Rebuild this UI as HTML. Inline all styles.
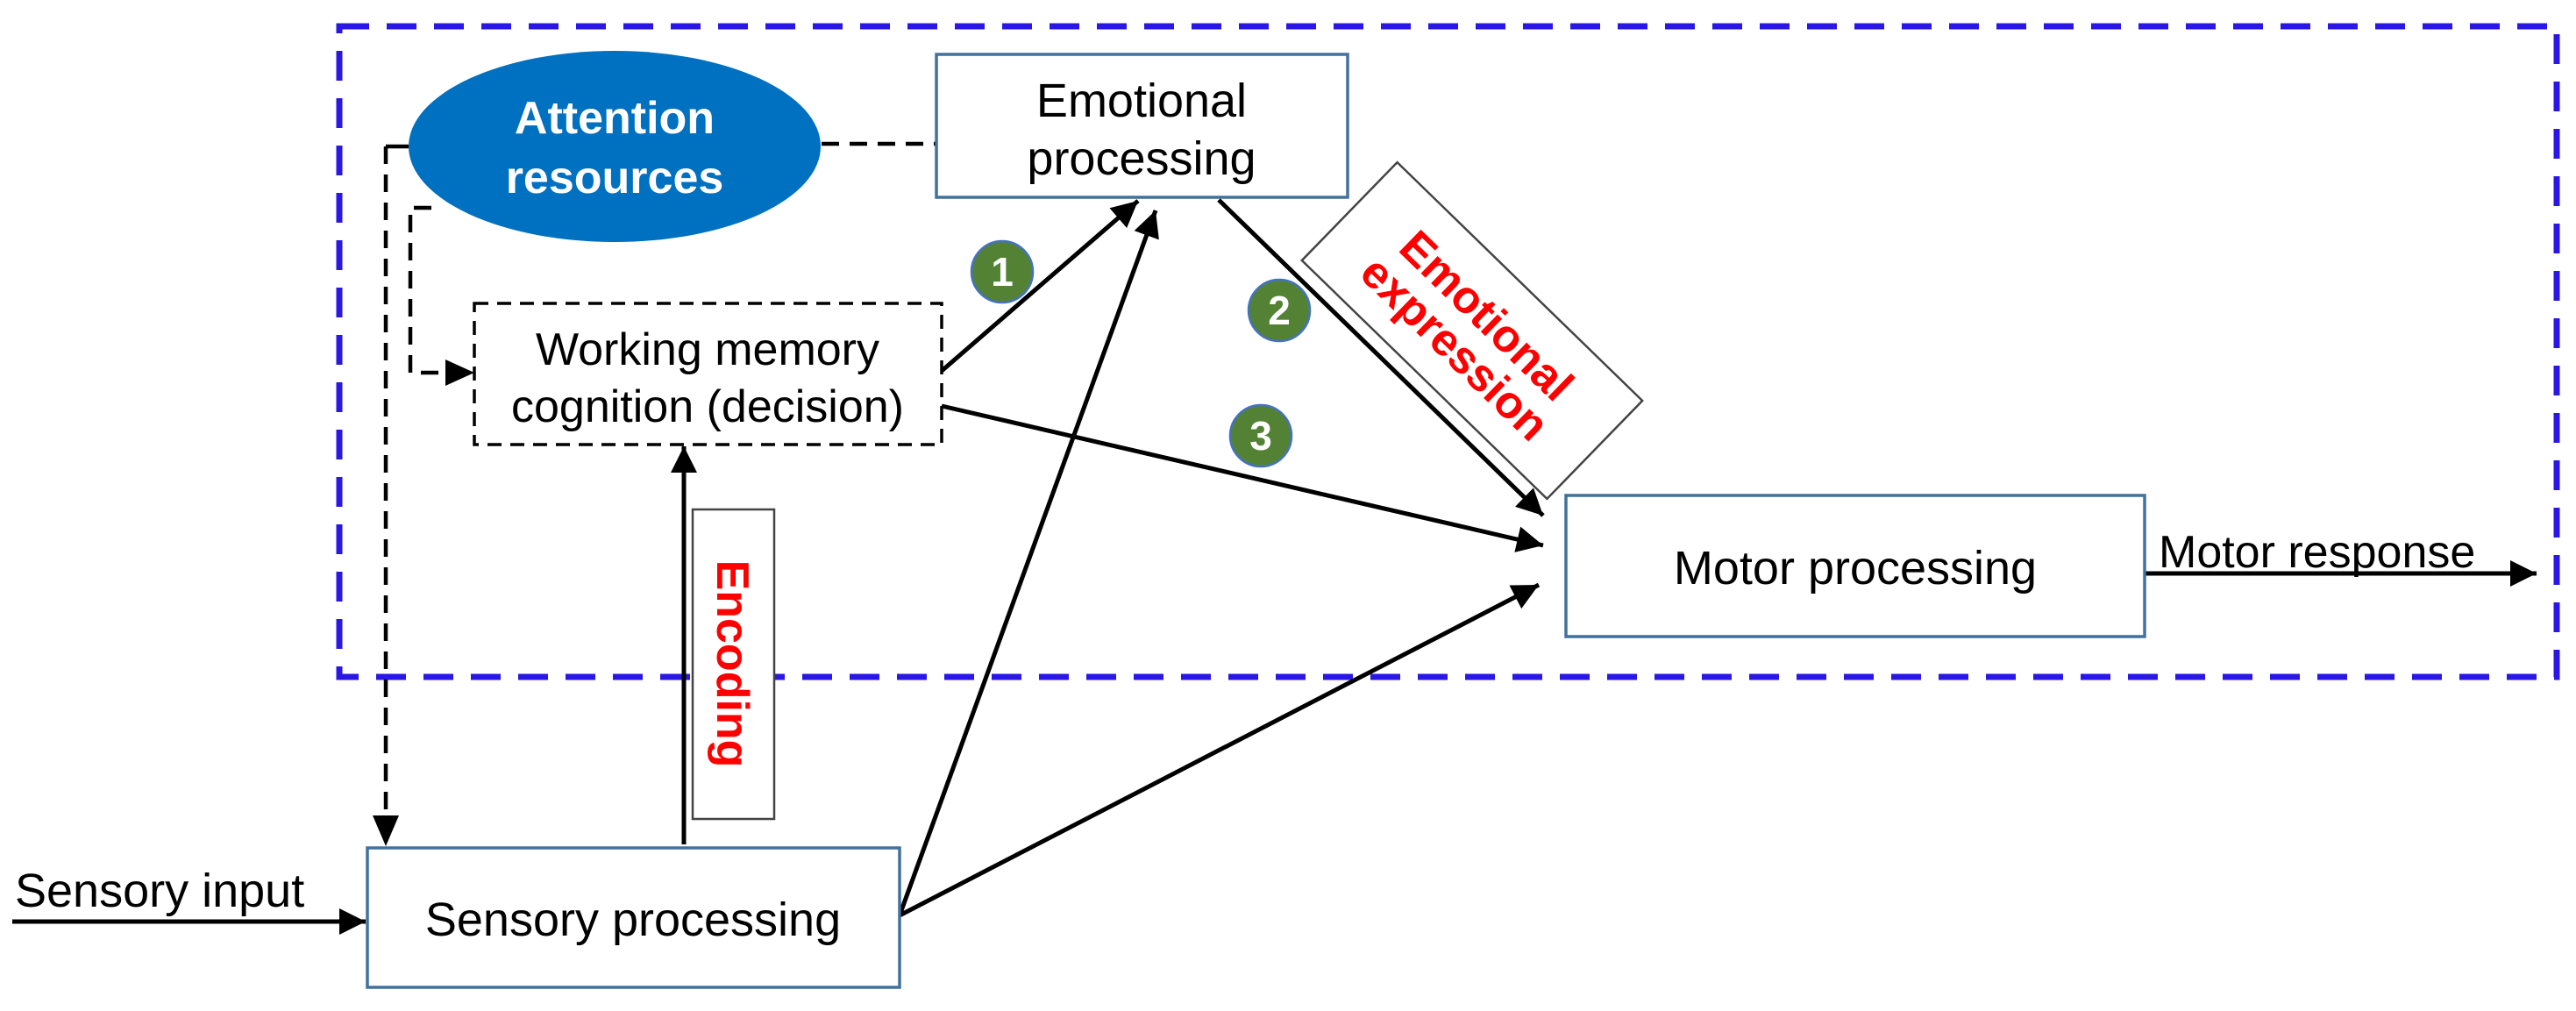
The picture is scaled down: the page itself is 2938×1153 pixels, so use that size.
<!DOCTYPE html>
<html><head><meta charset="utf-8"><style>
html,body{margin:0;padding:0;background:#fff;}
svg{display:block;}
text{font-family:"Liberation Sans",Arial,sans-serif;}
</style></head><body>
<svg width="2938" height="1153" viewBox="0 0 2938 1153" xmlns="http://www.w3.org/2000/svg">
<defs>
<marker id="ah" viewBox="0 0 10 10" refX="10" refY="5" markerWidth="7" markerHeight="6" markerUnits="strokeWidth" orient="auto">
<path d="M0,0 L10,5 L0,10 z" fill="#000"/></marker>
</defs>
<!-- blue dashed region -->
<rect x="387" y="30" width="2529" height="742" fill="none" stroke="#2a17e6" stroke-width="7" stroke-dasharray="34,20"/>

<!-- Emotional expression label -->
<g transform="translate(1679,377) rotate(44.2)">
<rect x="-195" y="-78" width="390" height="156" fill="#fff" stroke="#444" stroke-width="2.5"/>
<text x="0" y="-6" text-anchor="middle" font-size="52" font-weight="bold" fill="#ff0000">Emotional</text>
<text x="0" y="46" text-anchor="middle" font-size="52" font-weight="bold" fill="#ff0000">expression</text>
</g>

<!-- Encoding label -->
<rect x="790" y="581" width="93" height="353" fill="#fff" stroke="#444" stroke-width="2.5"/>
<text transform="translate(818,757) rotate(90)" text-anchor="middle" font-size="52" font-weight="bold" fill="#ff0000">Encoding</text>

<!-- dashed connectors -->
<g fill="none" stroke="#000" stroke-width="4.5" stroke-dasharray="20,12">
<path d="M440,167 L440,935"/>
<path d="M492,237 L468,237 L468,425 L512,425"/>
<path d="M937,164 L1068,164"/>
</g>
<line x1="440" y1="167" x2="466" y2="167" stroke="#000" stroke-width="4.5"/>
<path d="M425,930 L455,930 L440,965 z" fill="#000"/>
<path d="M508,410 L541,425 L508,440 z" fill="#000"/>

<!-- solid arrows -->
<g stroke="#000" stroke-width="5" fill="none">
<line x1="14" y1="1051" x2="417" y2="1051" marker-end="url(#ah)"/>
<line x1="780" y1="963" x2="780" y2="509" marker-end="url(#ah)"/>
<line x1="1074" y1="423" x2="1298" y2="229" marker-end="url(#ah)"/>
<line x1="1074" y1="463" x2="1760" y2="622" marker-end="url(#ah)"/>
<line x1="1390" y1="228" x2="1760" y2="588" marker-end="url(#ah)"/>
<line x1="1026" y1="1044" x2="1318" y2="240" marker-end="url(#ah)"/>
<line x1="1026" y1="1044" x2="1755" y2="667" marker-end="url(#ah)"/>
<line x1="2446" y1="654" x2="2893" y2="654" marker-end="url(#ah)"/>
</g>

<!-- Attention ellipse -->
<ellipse cx="701" cy="167" rx="235" ry="109" fill="#0070c0"/>
<text x="701" y="152" text-anchor="middle" font-size="52" font-weight="bold" fill="#fff">Attention</text>
<text x="701" y="220" text-anchor="middle" font-size="52" font-weight="bold" fill="#fff">resources</text>

<!-- Emotional processing -->
<rect x="1068" y="62" width="469" height="163" fill="#fff" stroke="#41719c" stroke-width="3.5"/>
<text x="1302" y="133" text-anchor="middle" font-size="54" fill="#000">Emotional</text>
<text x="1302" y="199" text-anchor="middle" font-size="54" fill="#000">processing</text>

<!-- Working memory -->
<rect x="541" y="346" width="533" height="161" fill="#fff" stroke="#000" stroke-width="3.5" stroke-dasharray="16,10"/>
<text x="807" y="416" text-anchor="middle" font-size="52" fill="#000">Working memory</text>
<text x="807" y="481" text-anchor="middle" font-size="52" fill="#000">cognition (decision)</text>

<!-- Sensory processing -->
<rect x="419" y="967" width="607" height="159" fill="#fff" stroke="#41719c" stroke-width="3.5"/>
<text x="722" y="1067" text-anchor="middle" font-size="54" fill="#000">Sensory processing</text>
<text x="17" y="1034" font-size="54" fill="#000">Sensory input</text>

<!-- Motor processing -->
<rect x="1786" y="565" width="660" height="161" fill="#fff" stroke="#41719c" stroke-width="3.5"/>
<text x="2116" y="666" text-anchor="middle" font-size="54" fill="#000">Motor processing</text>
<text x="2462" y="647" font-size="52" fill="#000">Motor response</text>

<!-- numbered circles -->
<g stroke="#4472c4" stroke-width="2.5" fill="#548235">
<circle cx="1143" cy="310" r="35"/>
<circle cx="1459" cy="354" r="35"/>
<circle cx="1438" cy="497" r="35"/>
</g>
<g font-size="46" font-weight="bold" fill="#fff" text-anchor="middle">
<text x="1143" y="326">1</text>
<text x="1459" y="370">2</text>
<text x="1438" y="513">3</text>
</g>
</svg>
</body></html>
